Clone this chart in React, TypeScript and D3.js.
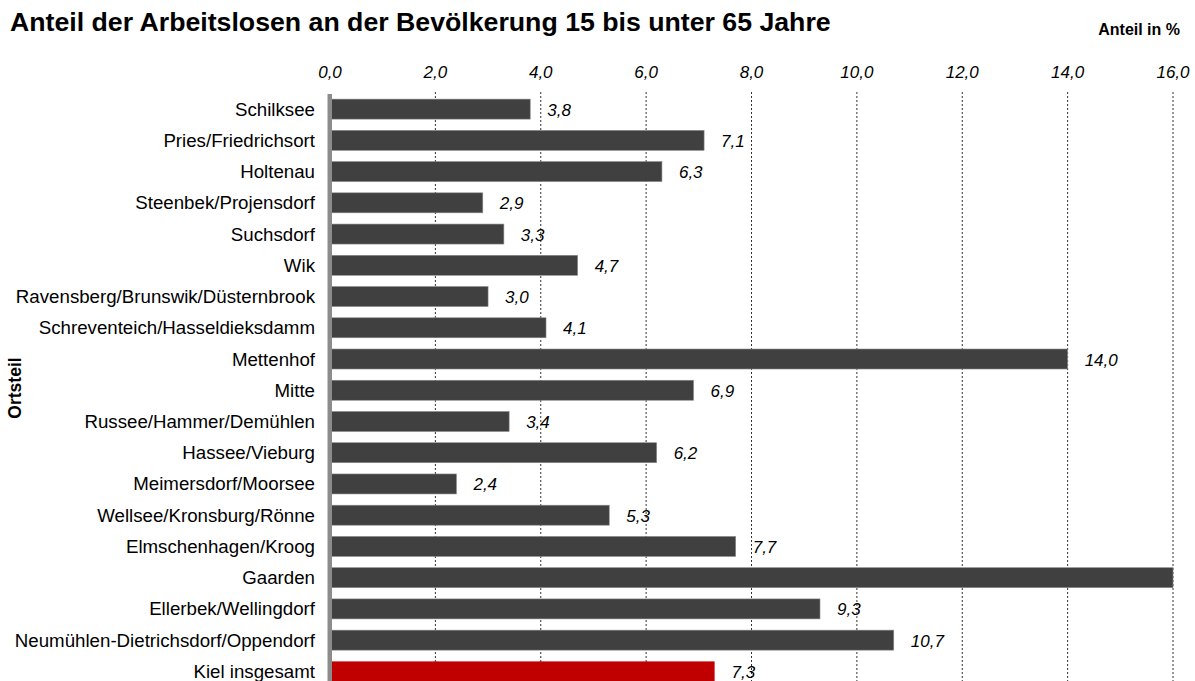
import React from "react";
import * as d3 from "d3";

const categories = [
  "Schilksee",
  "Pries/Friedrichsort",
  "Holtenau",
  "Steenbek/Projensdorf",
  "Suchsdorf",
  "Wik",
  "Ravensberg/Brunswik/Düsternbrook",
  "Schreventeich/Hasseldieksdamm",
  "Mettenhof",
  "Mitte",
  "Russee/Hammer/Demühlen",
  "Hassee/Vieburg",
  "Meimersdorf/Moorsee",
  "Wellsee/Kronsburg/Rönne",
  "Elmschenhagen/Kroog",
  "Gaarden",
  "Ellerbek/Wellingdorf",
  "Neumühlen-Dietrichsdorf/Oppendorf",
  "Kiel insgesamt",
];
const values = [3.8, 7.1, 6.3, 2.9, 3.3, 4.7, 3.0, 4.1, 14.0, 6.9, 3.4, 6.2, 2.4, 5.3, 7.7, 16.6, 9.3, 10.7, 7.3];
const ticks = [0, 2, 4, 6, 8, 10, 12, 14, 16];

const W = 1195;
const H = 681;
const fmt = (v: number) => v.toFixed(1).replace(".", ",");
const FONT = "'Liberation Sans', Arial, sans-serif";

export default function App() {
  const x = d3.scaleLinear().domain([0, 16]).range([330, 1173]);
  const y = d3.scaleBand<string>().domain(categories).range([93.5, 687]).paddingInner(0.36).paddingOuter(0.18);
  const bw = y.bandwidth();
  return (
    <svg width={W} height={H} style={{ position: "fixed", left: 0, top: 0, background: "#fff" }} fontFamily={FONT}>
      <text x={10} y={31} fontSize={26.7} fontWeight="bold" fill="#000">
        Anteil der Arbeitslosen an der Bevölkerung 15 bis unter 65 Jahre
      </text>
      <text x={1180} y={35} fontSize={16} fontWeight="bold" textAnchor="end" fill="#000">
        Anteil in %
      </text>
      {ticks.map((t) => (
        <text key={"t" + t} x={x(t)} y={78} fontSize={17} fontStyle="italic" textAnchor="middle" fill="#000">
          {fmt(t)}
        </text>
      ))}
      {ticks.filter((t) => t > 0).map((t) => (
        <line key={"g" + t} x1={x(t)} x2={x(t)} y1={92} y2={H} stroke="#333" strokeWidth={1} strokeDasharray="2,2" />
      ))}
      {categories.map((c, i) => {
        const v = values[i];
        const yy = y(c)!;
        const end = x(Math.min(v, 16));
        const last = i === categories.length - 1;
        return (
          <g key={c}>
            <rect x={x(0)} y={yy} width={end - x(0)} height={bw} fill={last ? "#c00000" : "#404040"} stroke={last ? "none" : "#8a8a8a"} strokeWidth={0.6} />
            <text x={315} y={yy + bw / 2 + 6.5} fontSize={18.7} textAnchor="end" fill="#000">
              {c}
            </text>
            {v <= 16 && (
              <text x={end + 17} y={Math.min(yy + bw / 2 + 6.5, H - 3)} fontSize={17} fontStyle="italic" fill="#000">
                {fmt(v)}
              </text>
            )}
          </g>
        );
      })}
      <rect x={327.5} y={94} width={4.5} height={H - 94} fill="#8c8c8c" />
      <text transform="translate(21,388) rotate(-90)" fontSize={17.5} fontWeight="bold" textAnchor="middle" fill="#000">
        Ortsteil
      </text>
    </svg>
  );
}
